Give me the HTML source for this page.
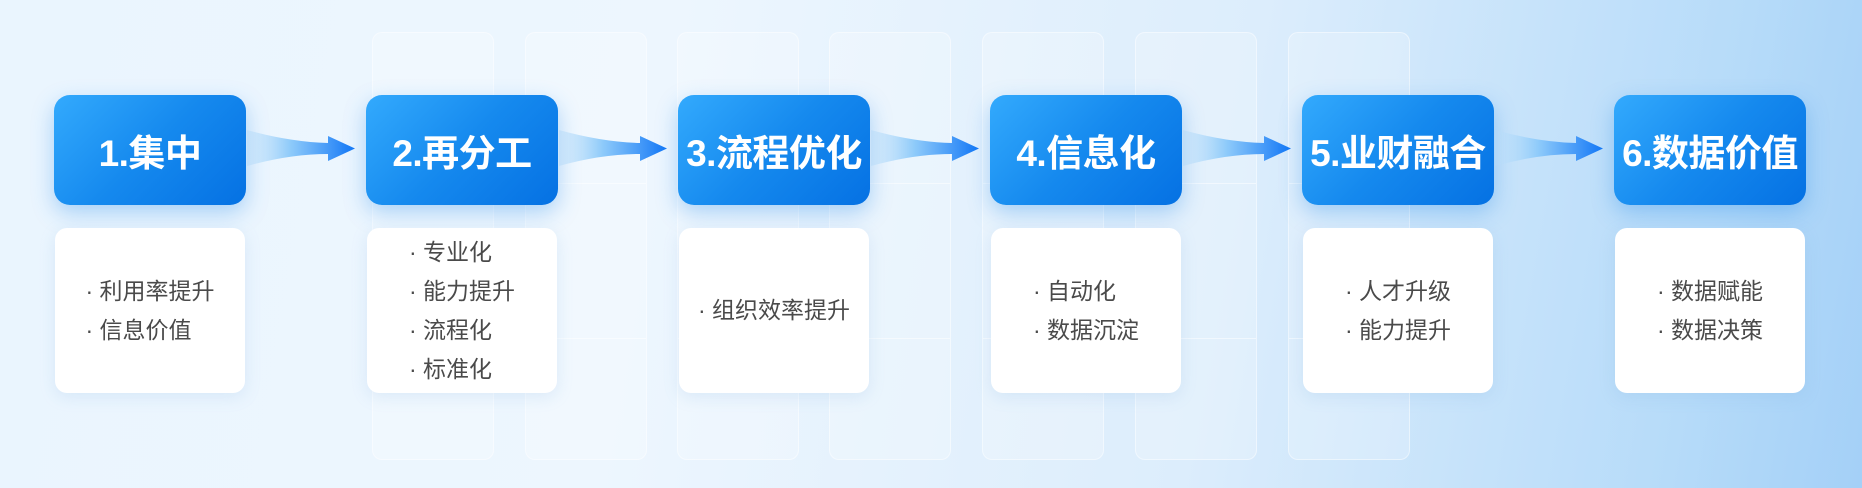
<!DOCTYPE html>
<html><head><meta charset="utf-8"><style>
html,body{margin:0;padding:0;}
body{width:1862px;height:488px;position:relative;overflow:hidden;
background:linear-gradient(100deg,#eaf5fe 0%,#edf6fe 35%,#dcedfc 65%,#b6dbf9 90%,#a4d0f7 100%);
font-family:"Liberation Sans","Noto Sans CJK SC",sans-serif;}
.ghost{position:absolute;top:32px;height:428px;width:122px;border-radius:10px;background:rgba(255,255,255,0.22);border:1px solid rgba(255,255,255,0.45);box-sizing:border-box;}
.ghost:before,.ghost:after{content:"";position:absolute;left:0;right:0;height:1px;background:rgba(255,255,255,0.5);}
.ghost:before{top:150px}.ghost:after{top:305px}
.blue{position:absolute;top:95px;width:192px;height:110px;border-radius:16px;
background:linear-gradient(135deg,#33aafd 0%,#1589ee 50%,#0571e3 100%);
box-shadow:0 8px 22px rgba(40,140,235,0.35);
color:#fff;font-weight:bold;font-size:37px;display:flex;align-items:center;justify-content:center;white-space:nowrap;letter-spacing:-0.5px;}
.white{position:absolute;top:228px;width:190px;height:165px;border-radius:12px;background:#fff;
box-shadow:0 4px 16px rgba(120,170,220,0.18);
display:flex;align-items:center;justify-content:center;color:#4a4a4a;font-size:23px;}
.white div{line-height:39px;}
svg{position:absolute;left:0;top:0;}
</style></head><body>
<div class="ghost" style="left:372px"></div>
<div class="ghost" style="left:525px"></div>
<div class="ghost" style="left:677px"></div>
<div class="ghost" style="left:829px"></div>
<div class="ghost" style="left:982px"></div>
<div class="ghost" style="left:1135px"></div>
<div class="ghost" style="left:1288px"></div>

<svg width="1862" height="488">
<defs><linearGradient id="g" x1="0" x2="1" y1="0" y2="0">
<stop offset="0" stop-color="#cfe8fb" stop-opacity="0.5"/>
<stop offset="0.4" stop-color="#8fcbfa"/>
<stop offset="1" stop-color="#1277f6"/></linearGradient></defs>
<g fill="url(#g)">
<path id="a" d="M247,130 Q290,142 328,143 L328,136 L355,148.5 L328,161 L328,154 Q290,154 247,166 Z"/>
<use href="#a" x="312"/><use href="#a" x="624"/><use href="#a" x="936"/><use href="#a" x="1248"/>
</g></svg>

<div class="blue" style="left:54px">1.集中</div>
<div class="blue" style="left:366px">2.再分工</div>
<div class="blue" style="left:678px">3.流程优化</div>
<div class="blue" style="left:990px">4.信息化</div>
<div class="blue" style="left:1302px">5.业财融合</div>
<div class="blue" style="left:1614px">6.数据价值</div>

<div class="white" style="left:55px"><div>· 利用率提升<br>· 信息价值</div></div>
<div class="white" style="left:367px"><div>· 专业化<br>· 能力提升<br>· 流程化<br>· 标准化</div></div>
<div class="white" style="left:679px"><div>· 组织效率提升</div></div>
<div class="white" style="left:991px"><div>· 自动化<br>· 数据沉淀</div></div>
<div class="white" style="left:1303px"><div>· 人才升级<br>· 能力提升</div></div>
<div class="white" style="left:1615px"><div>· 数据赋能<br>· 数据决策</div></div>
</body></html>
